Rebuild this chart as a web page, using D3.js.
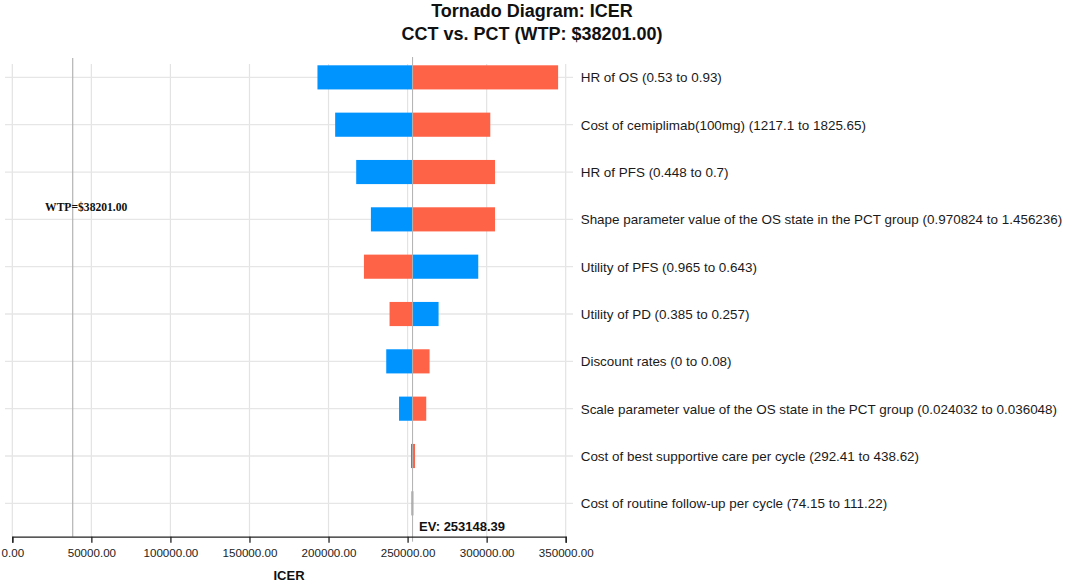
<!DOCTYPE html>
<html>
<head>
<meta charset="utf-8">
<script src="https://cdn.jsdelivr.net/npm/d3@7"></script>
<style>
  html, body { margin: 0; padding: 0; background: #fff; }
  svg { display: block; font-family: "Liberation Sans", Arial, sans-serif; }
</style>
</head>
<body>
<svg id="chart" width="1065" height="583"></svg>
<script>
// ---- Data ----
const titleLines = ["Tornado Diagram: ICER", "CCT vs. PCT (WTP: $38201.00)"];
const parameters = [
  "HR of OS (0.53 to 0.93)",
  "Cost of cemiplimab(100mg) (1217.1 to 1825.65)",
  "HR of PFS (0.448 to 0.7)",
  "Shape parameter value of the OS state in the PCT group (0.970824 to 1.456236)",
  "Utility of PFS (0.965 to 0.643)",
  "Utility of PD (0.385 to 0.257)",
  "Discount rates (0 to 0.08)",
  "Scale parameter value of the OS state in the PCT group (0.024032 to 0.036048)",
  "Cost of best supportive care per cycle (292.41 to 438.62)",
  "Cost of routine follow-up per cycle (74.15 to 111.22)"
];
// ICER at low input value (blue) and high input value (red)
const lowValueICER  = [193000, 204200, 217500, 226800, 294700, 269600, 236500, 244600, 252200, 252500];
const highValueICER = [345200, 302300, 305300, 305300, 222400, 238600, 263900, 261800, 254700, 253200];
const expectedValue = 253148.39;
const wtp = 38201.00;
const xTicks = [0, 50000, 100000, 150000, 200000, 250000, 300000, 350000];
const xAxisTitle = "ICER";

// ---- Layout ----
const svg = d3.select("#chart");
const x = d3.scaleLinear().domain([0, 350000]).range([12.3, 565.7]);
const y = d3.scaleBand().domain(parameters).range([53.7, 527])
  .paddingInner(0.49).paddingOuter(0.245);
const axisY = 536.7;
const gridTop = 64;

const blue = "#0094ff";
const red = "#ff6347";

// vertical gridlines
svg.append("g").selectAll("line").data(xTicks).join("line")
  .attr("x1", d => x(d)).attr("x2", d => x(d))
  .attr("y1", gridTop).attr("y2", axisY)
  .attr("stroke", "#e3e3e3").attr("stroke-width", 1.2);

// horizontal gridlines
svg.append("g").selectAll("line").data(parameters).join("line")
  .attr("x1", 5).attr("x2", 573)
  .attr("y1", d => y(d) + y.bandwidth() / 2).attr("y2", d => y(d) + y.bandwidth() / 2)
  .attr("stroke", "#e6e6e6").attr("stroke-width", 1.3);

// WTP line
svg.append("line")
  .attr("x1", x(wtp)).attr("x2", x(wtp))
  .attr("y1", 58).attr("y2", axisY)
  .attr("stroke", "#b4b4b4").attr("stroke-width", 1.2);

svg.append("text")
  .attr("x", x(wtp) + 13.5).attr("y", 210.5)
  .attr("text-anchor", "middle")
  .style("font-family", "'Liberation Serif', 'Times New Roman', serif")
  .style("font-weight", "bold").style("font-size", "11.6px")
  .attr("fill", "#111")
  .text("WTP=$" + wtp.toFixed(2));

// bars
const rows = parameters.map((p, i) => ({ p, low: lowValueICER[i], high: highValueICER[i] }));
const bars = svg.append("g");
rows.forEach(r => {
  [[r.low, blue], [r.high, red]].forEach(([v, c]) => {
    const x0 = Math.min(x(v), x(expectedValue));
    const w = Math.abs(x(v) - x(expectedValue));
    bars.append("rect")
      .attr("x", x0).attr("y", y(r.p))
      .attr("width", Math.max(w, 0.8)).attr("height", y.bandwidth())
      .attr("fill", c);
  });
});

// EV line
svg.append("line")
  .attr("x1", x(expectedValue)).attr("x2", x(expectedValue))
  .attr("y1", 57).attr("y2", axisY + 5)
  .attr("stroke", "#b0b0b0").attr("stroke-width", 1);

svg.append("text")
  .attr("x", x(expectedValue) + 6.5).attr("y", 530.5)
  .style("font-weight", "bold").style("font-size", "13px")
  .attr("fill", "#111")
  .text("EV: " + expectedValue.toFixed(2));

// parameter labels
svg.append("g").selectAll("text").data(parameters).join("text")
  .attr("x", 580.7).attr("y", d => y(d) + y.bandwidth() / 2)
  .attr("dy", "0.36em")
  .style("font-size", "13.45px").attr("fill", "#1a1a1a")
  .text(d => d);

// x axis
const axis = d3.axisBottom(x).tickValues(xTicks).tickSize(6)
  .tickFormat(d => d3.format(".2f")(d));
const gAxis = svg.append("g").attr("transform", `translate(0,${axisY})`).call(axis);
gAxis.select(".domain").attr("stroke", "#222").attr("stroke-width", 1.3);
gAxis.selectAll(".tick line").attr("stroke", "#222").attr("stroke-width", 1.3);
gAxis.selectAll(".tick text")
  .style("font-size", "11.6px").style("font-family", "'Liberation Sans', Arial, sans-serif")
  .attr("fill", "#222").attr("dy", "1.0em");

svg.append("text")
  .attr("x", (x.range()[0] + x.range()[1]) / 2).attr("y", 580)
  .attr("text-anchor", "middle")
  .style("font-weight", "bold").style("font-size", "13px").attr("fill", "#111")
  .text(xAxisTitle);

// titles
svg.append("g").selectAll("text").data(titleLines).join("text")
  .attr("x", 532).attr("y", (d, i) => 16.5 + i * 23.5)
  .attr("text-anchor", "middle")
  .style("font-weight", "bold").style("font-size", "18px").attr("fill", "#111")
  .text(d => d);
</script>
</body>
</html>
